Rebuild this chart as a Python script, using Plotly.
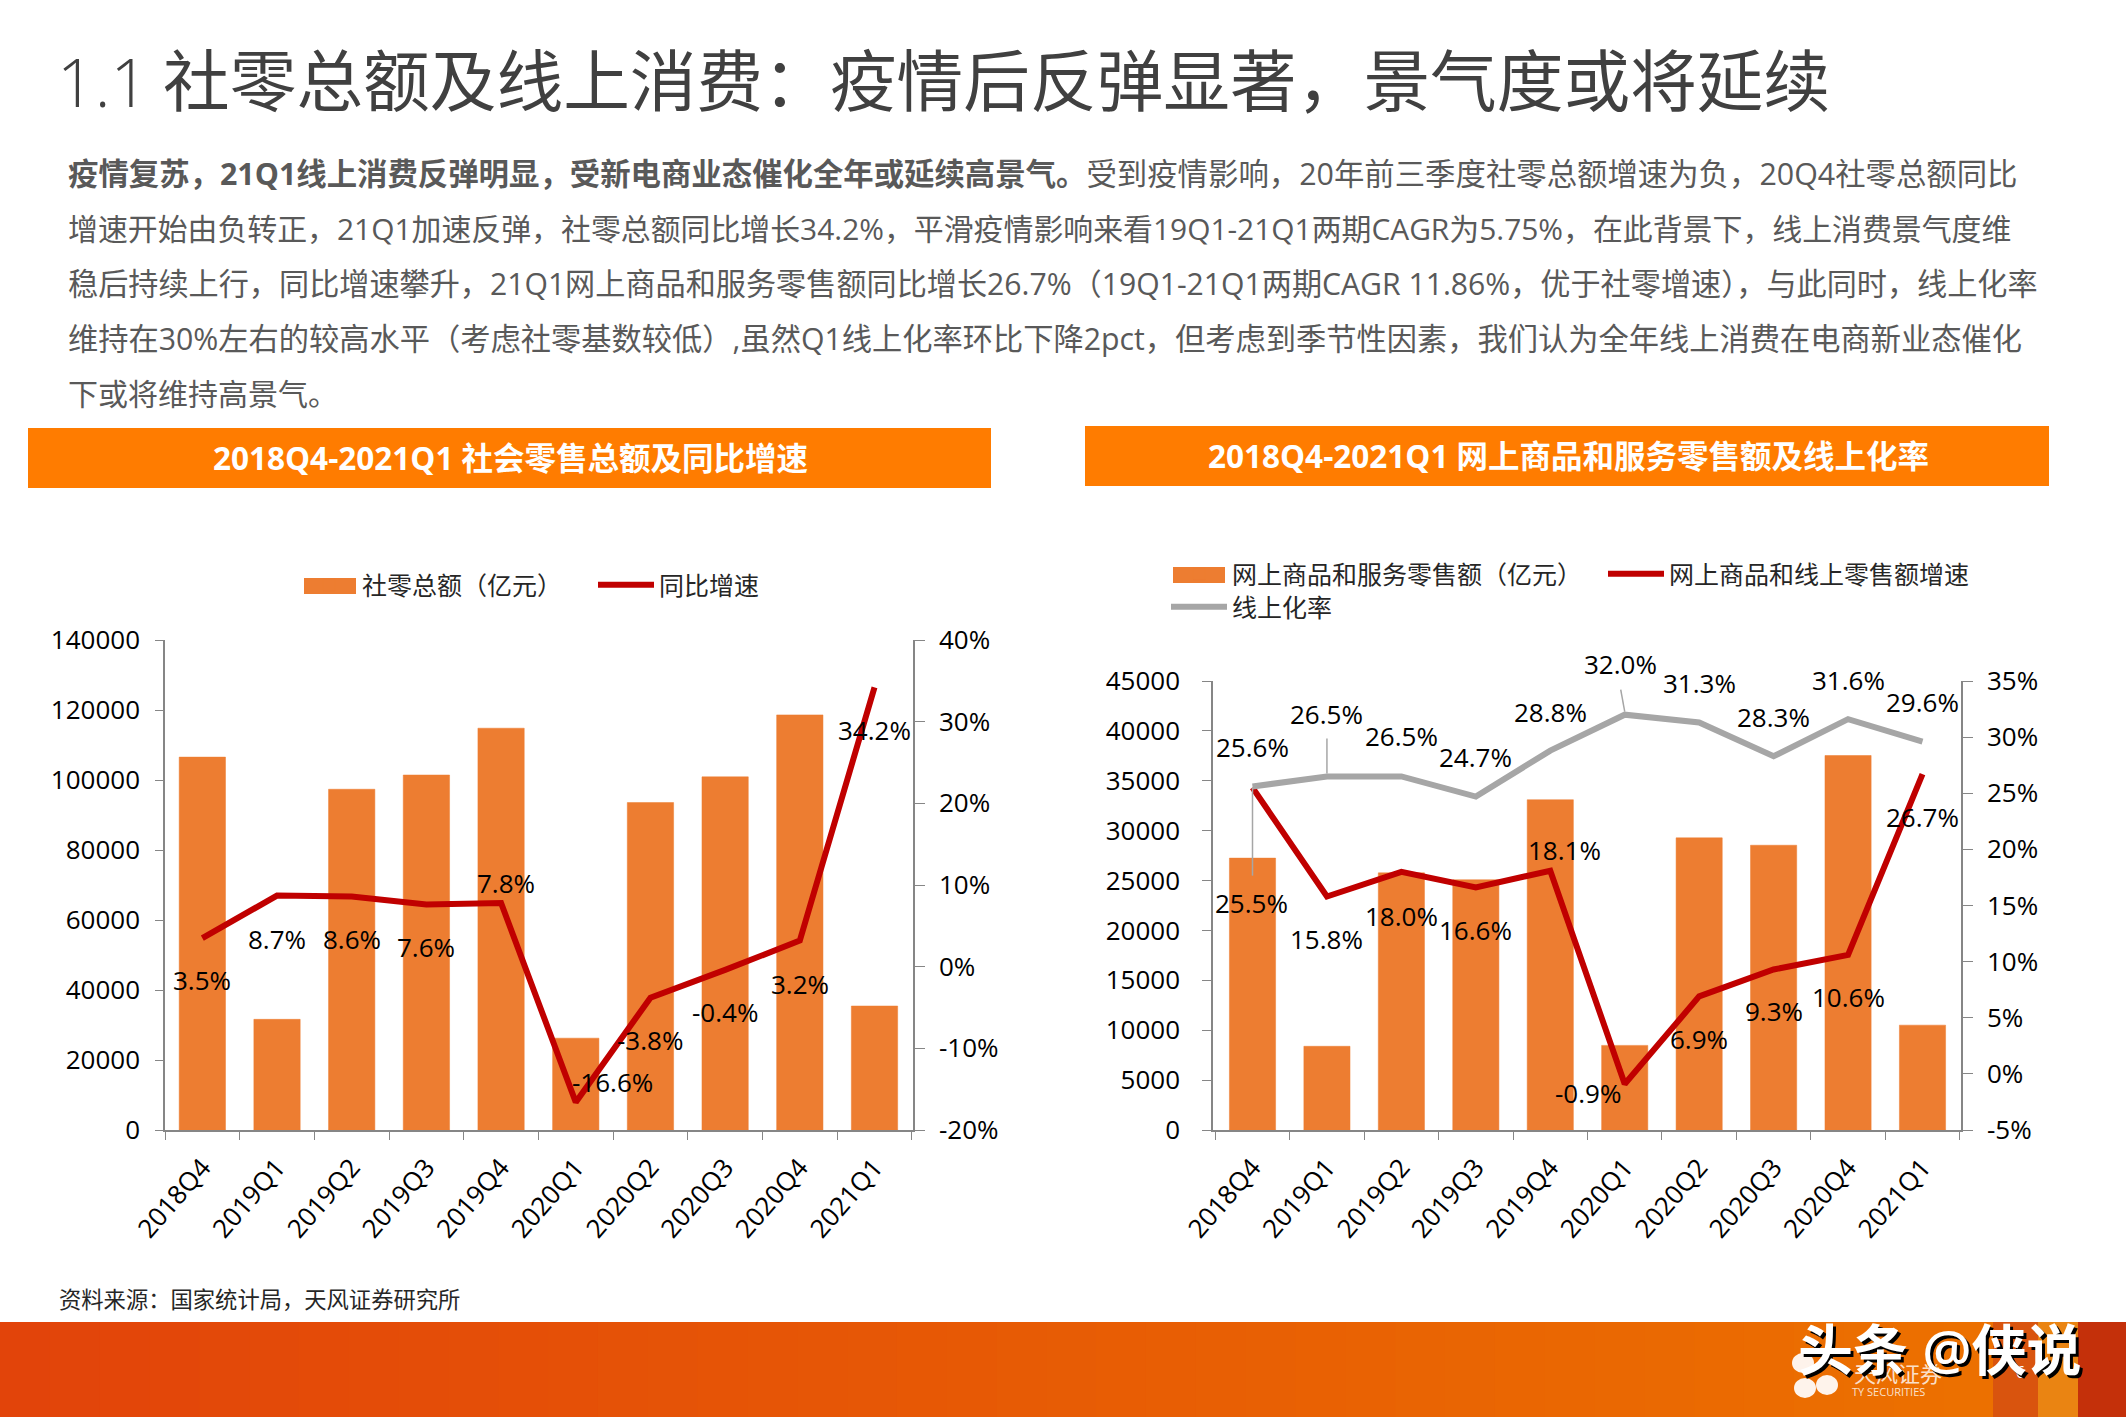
import plotly.graph_objects as go

# ---------- data ----------
quarters = ["2018Q4","2019Q1","2019Q2","2019Q3","2019Q4","2020Q1","2020Q2","2020Q3","2020Q4","2021Q1"]
retail_total = [106540,31620,97360,101430,114800,26240,93550,100900,118600,35430]
retail_yoy = [3.5,8.7,8.6,7.6,7.8,-16.6,-3.8,-0.4,3.2,34.2]
online_sales = [27250,8390,25770,25080,33100,8480,29280,28540,37530,10510]
online_yoy = [25.5,15.8,18.0,16.6,18.1,-0.9,6.9,9.3,10.6,26.7]
online_rate = [25.6,26.5,26.5,24.7,28.8,32.0,31.3,28.3,31.6,29.6]

left1_ticks = [0,20000,40000,60000,80000,100000,120000,140000]
right1_ticks = [-20,-10,0,10,20,30,40]
right1_labels = ["-20%","-10%","0%","10%","20%","30%","40%"]
left2_ticks = [0,5000,10000,15000,20000,25000,30000,35000,40000,45000]
right2_ticks = [-5,0,5,10,15,20,25,30,35]
right2_labels = ["-5%","0%","5%","10%","15%","20%","25%","30%","35%"]

title_num = "1.1"
title_text = "社零总额及线上消费\uff1a疫情后反弹显著\uff0c景气度或将延续"
body_lines = [
    "<b>疫情复苏\uff0c21Q1线上消费反弹明显\uff0c受新电商业态催化全年或延续高景气。</b>受到疫情影响\uff0c20年前三季度社零总额增速为负\uff0c20Q4社零总额同比",
    "增速开始由负转正\uff0c21Q1加速反弹\uff0c社零总额同比增长34.2%\uff0c平滑疫情影响来看19Q1-21Q1两期CAGR为5.75%\uff0c在此背景下\uff0c线上消费景气度维",
    "稳后持续上行\uff0c同比增速攀升\uff0c21Q1网上商品和服务零售额同比增长26.7%\uff0819Q1-21Q1两期CAGR 11.86%\uff0c优于社零增速\uff09\uff0c与此同时\uff0c线上化率",
    "维持在30%左右的较高水平\uff08考虑社零基数较低\uff09,虽然Q1线上化率环比下降2pct\uff0c但考虑到季节性因素\uff0c我们认为全年线上消费在电商新业态催化",
    "下或将维持高景气。",
]
banner_left = "2018Q4-2021Q1 社会零售总额及同比增速"
banner_right = "2018Q4-2021Q1 网上商品和服务零售额及线上化率"
source_text = "资料来源\uff1a国家统计局\uff0c天风证券研究所"

# ---------- layout helpers ----------
W, H = 2126, 1417
CJK = "'Open Sans','Noto Sans CJK SC',sans-serif"
BODY = "'Open Sans','Noto Sans CJK SC',sans-serif"
def px(v): return v / W
def py(v): return 1 - v / H

RED, GRAY, ORANGE, AXIS = "#C00000", "#A6A6A6", "#ED7D31", "#868686"
bar_marker = dict(color=ORANGE, line=dict(color=ORANGE, width=0.5))
fig = go.Figure()

# chart 1
fig.add_bar(x=quarters, y=retail_total, name="社零总额\uff08亿元\uff09", marker=bar_marker, xaxis="x", yaxis="y", legend="legend", showlegend=True)
fig.add_scatter(x=quarters, y=retail_yoy, name="同比增速", mode="lines", line=dict(color=RED, width=6), xaxis="x", yaxis="y2", legend="legend2", showlegend=True)
# chart 2
fig.add_bar(x=quarters, y=online_sales, name="网上商品和服务零售额\uff08亿元\uff09", marker=bar_marker, xaxis="x2", yaxis="y3", legend="legend3", showlegend=True)
fig.add_scatter(x=quarters, y=online_yoy, name="网上商品和线上零售额增速", mode="lines", line=dict(color=RED, width=6), xaxis="x2", yaxis="y4", legend="legend4", showlegend=True)
fig.add_scatter(x=quarters, y=online_rate, name="线上化率", mode="lines", line=dict(color=GRAY, width=6), xaxis="x2", yaxis="y4", legend="legend5", showlegend=True)

tickfont = dict(family=CJK, size=26, color="#000000")
def xaxis(dom, anchor):
    return dict(domain=dom, anchor=anchor, type="category", tickson="boundaries", ticks="outside", ticklen=8,
                ticklabelstandoff=10, tickcolor=AXIS, linecolor=AXIS, linewidth=1.5, showgrid=False, tickangle=-49,
                tickfont=tickfont, showline=True)
def yaxis(dom, anchor, rng, vals, ticklen, standoff, text=None, side="left", overlay=None):
    d = dict(domain=dom, anchor=anchor, range=rng, tickmode="array", tickvals=vals,
             ticktext=text if text else [str(v) for v in vals], ticks="outside", ticklen=ticklen,
             ticklabelstandoff=standoff, tickcolor=AXIS, linecolor=AXIS, linewidth=1.5, showline=True, showgrid=False,
             zeroline=False, tickfont=tickfont, side=side)
    if overlay: d["overlaying"] = overlay
    return d

dom1x, dom1y = [165/W, 913/W], [1-1130/H, 1-640/H]
dom2x, dom2y = [1213/W, 1961/W], [1-1130/H, 1-681/H]
layout = dict(
    width=W, height=H, margin=dict(l=0, r=0, t=0, b=0, autoexpand=False), paper_bgcolor="white", plot_bgcolor="rgba(0,0,0,0)",
    barmode="group", bargap=0.38, showlegend=True,
    xaxis=xaxis(dom1x, "y"), xaxis2=xaxis(dom2x, "y3"),
    yaxis=yaxis(dom1y, "x", [0,140000], left1_ticks, 8, 10),
    yaxis2=yaxis(dom1y, "x", [-20,40], right1_ticks, 10, 9, right1_labels, "right", "y"),
    yaxis3=yaxis(dom2y, "x2", [0,45000], left2_ticks, 9, 17),
    yaxis4=yaxis(dom2y, "x2", [-5,35], right2_ticks, 10, 9, right2_labels, "right", "y3"),
)
legfont = dict(family=CJK, size=25, color="#262626")
def legend(x, y):
    return dict(x=px(x), y=py(y), xanchor="left", yanchor="middle", orientation="h", font=legfont,
                itemwidth=56, bgcolor="rgba(0,0,0,0)", tracegroupgap=0, itemclick=False, traceorder="normal", visible=True)
layout["legend"] = legend(296, 585)
layout["legend2"] = legend(593, 585)
layout["legend3"] = legend(1166, 574)
layout["legend4"] = legend(1603, 574)
layout["legend5"] = legend(1166, 607)

annos, shapes = [], []
def label(xa, ya, xv, yv, txt, dx, dy):
    annos.append(dict(xref=xa, yref=ya, x=xv, y=yv, text=txt, showarrow=False, xshift=dx, yshift=-dy,
                      xanchor="center", yanchor="middle", font=dict(family=CJK, size=26, color="#000000")))
def pct(v): return f"{v:.1f}%"

off1 = [(0,42),(0,43),(0,43),(0,42),(5,-20),(37,-20),(0,42),(0,42),(0,43),(0,43)]
for q, v, o in zip(quarters, retail_yoy, off1):
    label("x", "y2", q, v, pct(v), *o)
off2 = [(-1,115),(0,42),(0,44),(0,42),(14,-21),(-37,9),(0,43),(0,42),(0,42),(0,43)]
for q, v, o in zip(quarters, online_yoy, off2):
    label("x2", "y4", q, v, pct(v), *o)
off3 = [(0,-40),(0,-62),(0,-40),(0,-40),(0,-39),(-4,-51),(0,-40),(0,-39),(0,-39),(0,-40)]
for q, v, o in zip(quarters, online_rate, off3):
    label("x2", "y4", q, v, pct(v), *o)

# leader lines for moved labels
def leader(cat, val, x0, y0, x1, y1):
    shapes.append(dict(type="line", xref="x2", yref="y4", xsizemode="pixel", ysizemode="pixel", xanchor=cat, yanchor=val,
                       x0=x0, y0=y0, x1=x1, y1=y1, line=dict(color=GRAY, width=1.5)))
leader(quarters[0], online_yoy[0], 0, 0, 0, -88)
leader(quarters[1], online_rate[1], 0, 38, 0, 3)
leader(quarters[5], online_rate[5], -4, 25, 0, 3)

# page furniture
def text(x, y, t, size, color, family=CJK, anchor="left", **kw):
    annos.append(dict(xref="paper", yref="paper", x=px(x), y=py(y), text=t, showarrow=False, xanchor=anchor, yanchor="middle",
                      font=dict(family=family, size=size, color=color, **kw)))
def rect(x0, y0, x1, y1, color, layer="below", kind="rect"):
    shapes.append(dict(type=kind, xref="paper", yref="paper", x0=px(x0), x1=px(x1), y0=py(y0), y1=py(y1),
                       fillcolor=color, line_width=0, layer=layer))

text(55, 81, title_num, 66, "#404040", weight=300)
text(161, 81, title_text, 66.7, "#404040")
for i, (line, size) in enumerate(zip(body_lines, [30.4, 29.9, 30.15, 30.25, 30])):
    text(66, 173.6 + i*55, line, size, "#595959", BODY)
rect(28, 428, 991, 488, "#FF7C00")
rect(1085, 426, 2049, 486, "#FF7C00")
text(510, 457.6, "<b>"+banner_left+"</b>", 31.5, "#FFFFFF", anchor="center")
text(1568, 455.6, "<b>"+banner_right+"</b>", 31.5, "#FFFFFF", anchor="center")
text(57, 1299, source_text, 22.3, "#262626")

# footer band: stepped gradient
steps = 40
c0, c1 = (226, 68, 10), (236, 112, 0)
for i in range(steps):
    t = i/(steps-1)
    col = "rgb(%d,%d,%d)" % tuple(round(a+(b-a)*t) for a, b in zip(c0, c1))
    rect(i*1993/steps, 1322, (i+1)*1993/steps+1, 1417, col)
rect(1993, 1322, 2038, 1417, "#D9540E")
rect(2038, 1322, 2078, 1417, "#EA8412")
rect(2078, 1322, 2126, 1417, "#C4300A")
for cx, cy in [(1803,1363),(1805,1388),(1827,1385)]:
    rect(cx-11, cy-10, cx+11, cy+10, "rgba(255,255,255,0.92)", "below", "circle")
text(1852, 1373, "天风证券", 22, "rgba(255,255,255,0.8)")
text(1850, 1391, "TY SECURITIES", 11, "rgba(255,255,255,0.8)")
text(2020, 1372, "6", 16, "#FFFFFF", anchor="center")
text(1796, 1348, "头条 @侠说", 55, "#FFFFFF", shadow="3px 3px 0 #000000", weight=600)

# widen the bar legend keys
rect(304, 578, 356, 594, ORANGE, "above")
rect(1173, 567, 1225, 583, ORANGE, "above")

layout["annotations"] = annos
layout["shapes"] = shapes
fig.update_layout(**layout)
fig.write_html("out.html", config=dict(displayModeBar=False),
               post_script="document.body.style.margin='0';document.documentElement.style.overflow='hidden';")
